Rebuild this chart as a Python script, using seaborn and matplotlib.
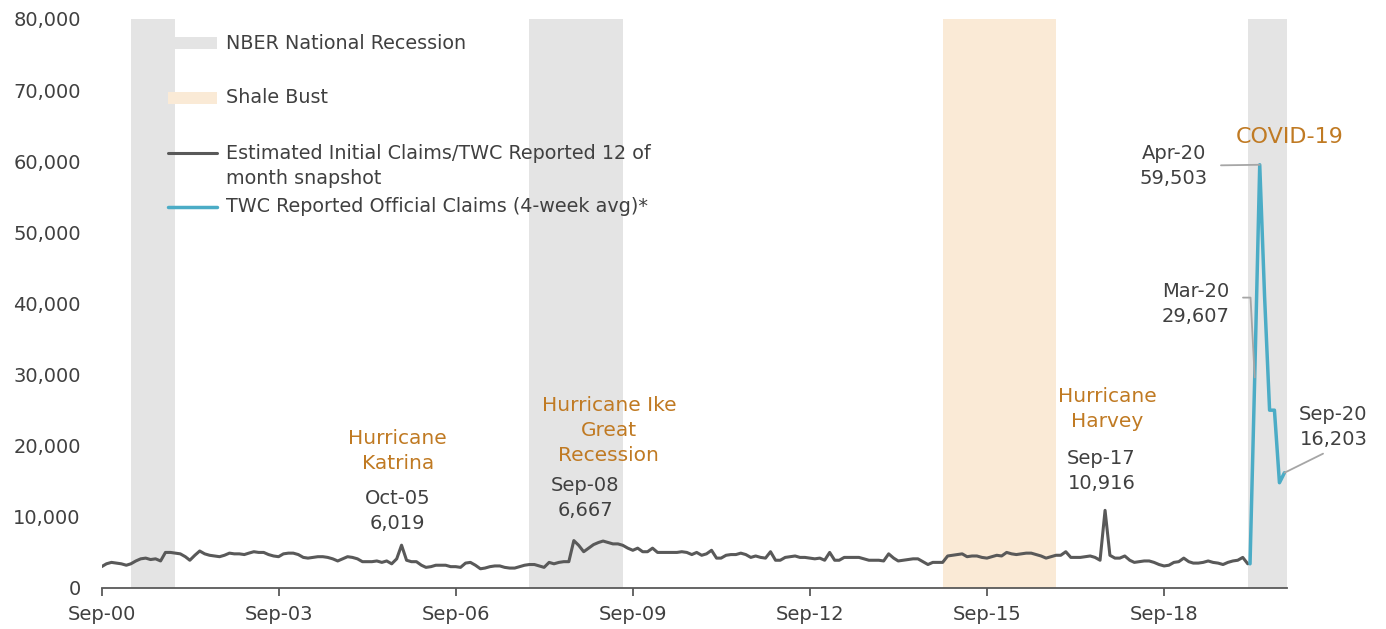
import pandas as pd
import numpy as np
import matplotlib.pyplot as plt
import matplotlib.dates as mdates
from matplotlib.ticker import FuncFormatter
from matplotlib.patches import Rectangle
import seaborn as sns

# monthly estimated initial claims, Sep-00 .. Feb-20
est_claims = [
    3000, 3400, 3600, 3500, 3400, 3200, 3400, 3800, 4100, 4200, 4000, 4100,   # Sep-00
    3800, 5000, 5000, 4900, 4800, 4400, 3900, 4600, 5200, 4800, 4600, 4500,   # Sep-01
    4400, 4600, 4900, 4800, 4800, 4700, 4900, 5100, 5000, 5000, 4700, 4500,   # Sep-02
    4400, 4800, 4900, 4900, 4700, 4300, 4200, 4300, 4400, 4400, 4300, 4100,   # Sep-03
    3800, 4100, 4400, 4300, 4100, 3700, 3700, 3700, 3800, 3600, 3800, 3400,   # Sep-04
    4100, 6019, 3900, 3700, 3700, 3200, 2900, 3000, 3200, 3200, 3200, 3000,   # Sep-05
    3000, 2900, 3500, 3600, 3200, 2700, 2800, 3000, 3100, 3100, 2900, 2800,   # Sep-06
    2800, 3000, 3200, 3300, 3300, 3100, 2900, 3600, 3400, 3600, 3700, 3700,   # Sep-07
    6667, 6000, 5100, 5600, 6100, 6400, 6600, 6400, 6200, 6200, 6000, 5600,   # Sep-08
    5300, 5600, 5100, 5100, 5600, 5000, 5000, 5000, 5000, 5000, 5100, 5000,   # Sep-09
    4700, 5000, 4600, 4800, 5300, 4200, 4200, 4600, 4700, 4700, 4900, 4700,   # Sep-10
    4300, 4500, 4300, 4200, 5100, 3900, 3900, 4300, 4400, 4500, 4300, 4300,   # Sep-11
    4200, 4100, 4200, 3900, 5000, 3900, 3900, 4300, 4300, 4300, 4300, 4100,   # Sep-12
    3900, 3900, 3900, 3800, 4800, 4200, 3800, 3900, 4000, 4100, 4100, 3700,   # Sep-13
    3300, 3600, 3600, 3600, 4500, 4600, 4700, 4800, 4400, 4500, 4500, 4300,   # Sep-14
    4200, 4400, 4600, 4500, 5000, 4800, 4700, 4800, 4900, 4900, 4700, 4500,   # Sep-15
    4200, 4400, 4600, 4600, 5100, 4300, 4300, 4300, 4400, 4500, 4300, 3900,   # Sep-16
    10916, 4600, 4200, 4200, 4500, 3900, 3600, 3700, 3800, 3800, 3600, 3300,  # Sep-17
    3100, 3200, 3600, 3700, 4200, 3700, 3500, 3500, 3600, 3800, 3600, 3500,   # Sep-18
    3300, 3600, 3800, 3900, 4300, 3400,                                       # Sep-19
]
est_dates = pd.date_range('2000-09-01', periods=len(est_claims), freq='MS')

# TWC official claims (4-week avg), mid-month
twc_claims = [3400, 29607, 59503, 41000, 25000, 25000, 14800, 16203]
twc_dates = pd.date_range('2020-02-01', periods=len(twc_claims), freq='MS') + pd.Timedelta(days=14)

recessions = [('2001-03-01', '2001-12-01'), ('2007-12-01', '2009-07-01'), ('2020-02-01', '2020-10-01')]
shale_bust = ('2014-12-01', '2016-11-01')

df_est = pd.DataFrame({'date': est_dates, 'claims': est_claims})
df_twc = pd.DataFrame({'date': twc_dates, 'claims': twc_claims})

GREY = '#595959'
BLUE = '#4BACC6'
ORANGE = '#C07A23'
TXT = '#404040'
LEADER = '#A6A6A6'

sns.set_theme(style='white')
plt.rcParams['font.family'] = ['DejaVu Sans']

fig = plt.figure(figsize=(13.86, 6.29), dpi=100)
ax = fig.add_axes([0.0733, 0.0652, 0.8553, 0.9046])

for start, end in recessions:
    ax.axvspan(pd.Timestamp(start), pd.Timestamp(end), color='#E4E4E4', lw=0, zorder=0)
ax.axvspan(pd.Timestamp(shale_bust[0]), pd.Timestamp(shale_bust[1]), color='#FAEAD6', lw=0, zorder=0)

sns.lineplot(data=df_est, x='date', y='claims', color=GREY, linewidth=2.2, ax=ax)
sns.lineplot(data=df_twc, x='date', y='claims', color=BLUE, linewidth=2.5, ax=ax)

ax.set_xlim(pd.Timestamp('2000-09-01'), pd.Timestamp('2020-10-01'))
ax.set_ylim(0, 80000)
ax.set_yticks(range(0, 80001, 10000))
ax.yaxis.set_major_formatter(FuncFormatter(lambda v, p: f'{v:,.0f}'))
ax.set_xticks(pd.date_range('2000-09-01', '2018-09-01', freq='36MS'))
ax.xaxis.set_major_formatter(mdates.DateFormatter('%b-%y'))
ax.set_xlabel('')
ax.set_ylabel('')

for s in ['top', 'right', 'left']:
    ax.spines[s].set_visible(False)
ax.spines['bottom'].set_color(GREY)
ax.spines['bottom'].set_linewidth(1.3)
ax.tick_params(axis='x', direction='out', length=6, width=1.3, color=GREY,
               labelsize=14, labelcolor=TXT, pad=6, bottom=True)
ax.tick_params(axis='y', length=0, labelsize=14, labelcolor=TXT, pad=15)

# legend (Excel style, drawn by hand)
ax.add_patch(Rectangle((0.0560, 0.9473), 0.0414, 0.0211, transform=ax.transAxes,
                       color='#E4E4E4', lw=0, clip_on=False))
ax.add_patch(Rectangle((0.0560, 0.8506), 0.0414, 0.0211, transform=ax.transAxes,
                       color='#FAEAD6', lw=0, clip_on=False))
ax.plot([0.0560, 0.0974], [0.7645, 0.7645], transform=ax.transAxes, color=GREY, lw=2.2)
ax.plot([0.0560, 0.0974], [0.6696, 0.6696], transform=ax.transAxes, color=BLUE, lw=2.5)
leg_kw = dict(transform=ax.transAxes, fontsize=13.8, color=TXT, ha='left', va='center')
ax.text(0.1050, 0.9578, 'NBER National Recession', **leg_kw)
ax.text(0.1050, 0.8612, 'Shale Bust', **leg_kw)
ax.text(0.1050, 0.7408, 'Estimated Initial Claims/TWC Reported 12 of\nmonth snapshot',
        linespacing=1.4, **leg_kw)
ax.text(0.1050, 0.6696, 'TWC Reported Official Claims (4-week avg)*', **leg_kw)

# event labels
ev_kw = dict(ha='center', va='center', color=ORANGE, fontsize=14.5, linespacing=1.4)
ax.text(pd.Timestamp('2005-09-07'), 19300, 'Hurricane\nKatrina', **ev_kw)
ax.text(pd.Timestamp('2009-04-06'), 22100, 'Hurricane Ike\nGreat\nRecession', **ev_kw)
ax.text(pd.Timestamp('2017-09-13'), 25200, 'Hurricane\nHarvey', **ev_kw)
ax.text(pd.Timestamp('2020-10-18'), 63400, 'COVID-19', ha='center', va='center',
        color=ORANGE, fontsize=16)

val_kw = dict(ha='center', va='center', color=TXT, fontsize=14, linespacing=1.4)
ax.text(pd.Timestamp('2005-09-07'), 10760, 'Oct-05\n6,019', **val_kw)
ax.text(pd.Timestamp('2008-11-10'), 12600, 'Sep-08\n6,667', **val_kw)
ax.text(pd.Timestamp('2017-08-10'), 16460, 'Sep-17\n10,916', **val_kw)

ax.annotate('Apr-20\n59,503', xy=(twc_dates[2], twc_claims[2]),
            xytext=(pd.Timestamp('2018-11-01'), 59400), textcoords='data',
            arrowprops=dict(arrowstyle='-', color=LEADER, lw=1.3, relpos=(1, 0.5),
                            shrinkA=7, shrinkB=0), **val_kw)
ax.annotate('Mar-20\n29,607', xy=(twc_dates[1], twc_claims[1]),
            xytext=(pd.Timestamp('2019-03-18'), 39900), textcoords='data',
            arrowprops=dict(arrowstyle='-', color=LEADER, lw=1.3, relpos=(1, 0.65),
                            shrinkA=7, shrinkB=0,
                            connectionstyle='angle,angleA=0,angleB=93,rad=0'), **val_kw)
ax.annotate('Sep-20\n16,203', xy=(twc_dates[7], twc_claims[7]),
            xytext=(pd.Timestamp('2021-07-15'), 22700), textcoords='data',
            annotation_clip=False,
            arrowprops=dict(arrowstyle='-', color=LEADER, lw=1.3, relpos=(0.5, 0),
                            shrinkA=3, shrinkB=0), **val_kw)

fig.savefig('out.png', dpi=100)
